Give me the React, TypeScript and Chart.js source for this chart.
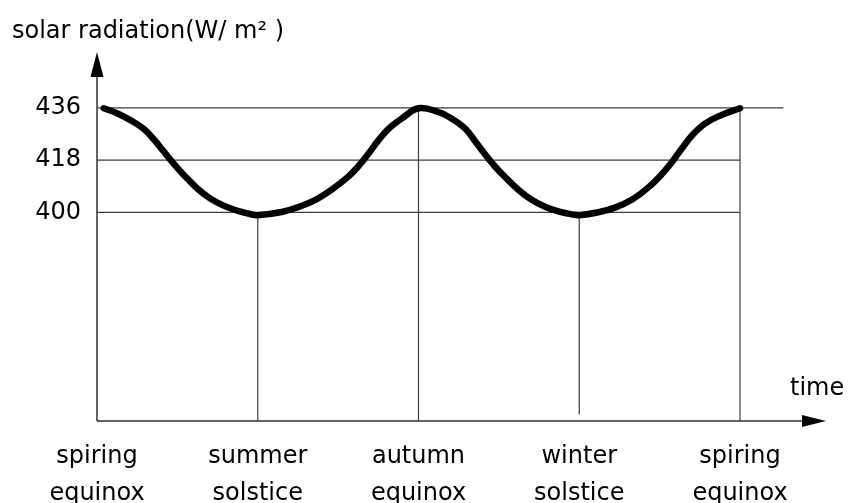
import React, { useEffect, useRef } from "react";
import { Chart, registerables } from "chart.js";

Chart.register(...registerables);

// Season positions (0 = spring equinox, 1 = summer solstice, ...)
const seasonTicks = [0, 1, 2, 3, 4];
const seasonLabels = [
  ["spiring", "equinox"],
  ["summer", "solstice"],
  ["autumn", "equinox"],
  ["winter", "solstice"],
  ["spiring", "equinox"],
];

// Curve sample positions (in seasons) and solar radiation values (W/m²)
const curveT = [
  0.042, 0.124, 0.205, 0.29, 0.353, 0.415, 0.477, 0.54, 0.622, 0.703, 0.788, 0.871, 0.952, 1.0,
  1.149, 1.252, 1.356, 1.46, 1.563, 1.626, 1.688, 1.75, 1.812, 1.895, 2.0,
  2.123, 2.207, 2.29, 2.351, 2.414, 2.476, 2.538, 2.621, 2.704, 2.787, 2.87, 2.953, 3.0,
  3.119, 3.222, 3.326, 3.43, 3.513, 3.575, 3.637, 3.7, 3.782, 3.886, 4.0,
];
const radiation = [
  435.9, 434.2, 431.9, 428.8, 425.2, 421.0, 416.8, 412.9, 408.3, 404.8, 402.3, 400.6, 399.4, 399.0,
  400.1, 401.8, 404.2, 407.8, 412.3, 415.9, 420.2, 424.8, 428.7, 432.3, 435.9,
  434.6, 432.3, 428.9, 424.6, 420.0, 415.8, 412.2, 407.8, 404.3, 401.9, 400.3, 399.3, 399.0,
  400.0, 401.6, 404.3, 408.6, 413.1, 417.2, 421.9, 426.4, 430.6, 433.6, 435.9,
];

// Y tick values and horizontal guide lines
const yTicks = [400, 418, 436];
const guideLevels = [436, 418, 400];
const guideEnds = [4.27, 4, 4];

// Vertical guide lines at seasons
const markerSeasons = [1, 2, 3, 4];
const markerTops = [399, 436, 400, 436];
const markerBottoms = [328, 328, 330.2, 328];

const xMin = 0;
const xMax = 4.535;
const yMin = 328;
const yMax = 455.3;

const titleText = "solar radiation(W/ m² )";
const xAxisText = "time";

const FONT = "DejaVu Sans";
const INK = "#000000";
const GUIDE = "#3c3c3c";
const TEXT = "#000000";

const axesPlugin = {
  id: "axesArrows",
  afterDatasetsDraw(chart: any) {
    const { ctx, chartArea } = chart;
    const { left, right, top, bottom } = chartArea;
    ctx.save();
    ctx.strokeStyle = "#303030";
    ctx.fillStyle = "#000";
    ctx.lineWidth = 1.5;
    // y axis
    ctx.beginPath();
    ctx.moveTo(left, bottom);
    ctx.lineTo(left, top + 25);
    ctx.stroke();
    ctx.beginPath();
    ctx.moveTo(left, top);
    ctx.lineTo(left - 6.5, top + 25);
    ctx.lineTo(left + 6.5, top + 25);
    ctx.closePath();
    ctx.fill();
    // x axis
    ctx.beginPath();
    ctx.moveTo(left, bottom);
    ctx.lineTo(right - 24, bottom);
    ctx.stroke();
    ctx.beginPath();
    ctx.moveTo(right, bottom);
    ctx.lineTo(right - 24, bottom - 6);
    ctx.lineTo(right - 24, bottom + 6);
    ctx.closePath();
    ctx.fill();
    // texts
    ctx.fillStyle = TEXT;
    ctx.font = `24px "${FONT}"`;
    ctx.textAlign = "left";
    ctx.textBaseline = "alphabetic";
    ctx.fillText(titleText, left - 85, top - 14);
    ctx.fillText(xAxisText, right - 36, bottom - 26);
    ctx.restore();
  },
};

export default function App() {
  const ref = useRef<HTMLCanvasElement | null>(null);

  useEffect(() => {
    document.body.style.margin = "0";
    const canvas = ref.current;
    if (!canvas) return;

    const guideSets = guideLevels.map((lvl, i) => ({
      data: [
        { x: xMin, y: lvl },
        { x: guideEnds[i], y: lvl },
      ],
      borderColor: GUIDE,
      borderWidth: 1.2,
      pointRadius: 0,
      tension: 0,
      order: 2,
    }));
    const markerSets = markerSeasons.map((s, i) => ({
      data: [
        { x: s, y: markerBottoms[i] },
        { x: s, y: markerTops[i] },
      ],
      borderColor: GUIDE,
      borderWidth: 1.2,
      pointRadius: 0,
      tension: 0,
      order: 2,
    }));

    const chart = new Chart(canvas, {
      type: "line",
      data: {
        datasets: [
          {
            data: curveT.map((t, i) => ({ x: t, y: radiation[i] })),
            borderColor: INK,
            borderWidth: 6.5,
            pointRadius: 0,
            tension: 0.4,
            borderCapStyle: "round",
            borderJoinStyle: "round",
            order: 0,
          },
          ...guideSets,
          ...markerSets,
        ] as any,
      },
      options: {
        responsive: false,
        animation: false,
        events: [],
        layout: { padding: { top: 52, right: 22, left: 0, bottom: 0 } },
        plugins: {
          legend: { display: false },
          tooltip: { enabled: false },
          title: { display: false },
        },
        scales: {
          x: {
            type: "linear",
            min: xMin,
            max: xMax,
            grid: { display: false, drawTicks: false },
            border: { display: false },
            afterBuildTicks: (scale: any) => {
              scale.ticks = seasonTicks.map((v) => ({ value: v }));
            },
            afterFit: (scale: any) => {
              scale.height = 82;
            },
            ticks: {
              autoSkip: false,
              maxRotation: 0,
              padding: 17,
              color: TEXT,
              font: { family: FONT, size: 24, lineHeight: 1.56 },
              callback: (_v: any, i: number) => seasonLabels[i],
            },
          },
          y: {
            type: "linear",
            min: yMin,
            max: yMax,
            grid: { display: false, drawTicks: false },
            border: { display: false },
            afterBuildTicks: (scale: any) => {
              scale.ticks = yTicks.map((v) => ({ value: v }));
            },
            afterFit: (scale: any) => {
              scale.width = 97;
            },
            ticks: {
              padding: 16,
              color: TEXT,
              font: { family: FONT, size: 24 },
              callback: (v: any) => String(v),
            },
          },
        },
      },
      plugins: [axesPlugin],
    });

    return () => chart.destroy();
  }, []);

  return (
    <div style={{ position: "absolute", left: 0, top: 0, width: 848, height: 503, background: "#fff" }}>
      <canvas ref={ref} width={848} height={503} />
    </div>
  );
}
